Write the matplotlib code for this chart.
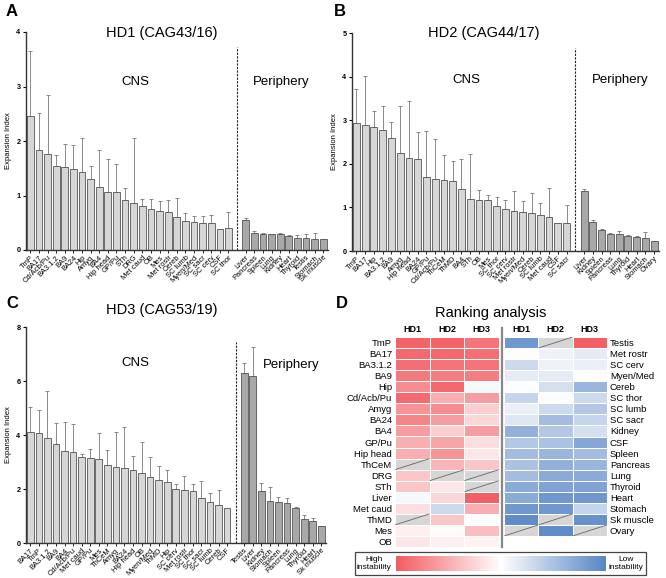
import numpy as np
import matplotlib
matplotlib.use("Agg")
import matplotlib.pyplot as plt
from matplotlib.colors import LinearSegmentedColormap
from matplotlib.patches import Rectangle

plt.rcParams['font.family'] = ['Liberation Sans', 'DejaVu Sans']

# ---- panel A: HD1
hd1_cns = ["TmP", "BA17", "Cd/Acb/Pu", "BA3.1.2", "BA9", "BA24", "Hip", "Amyg", "BA4",
           "Hip head", "GP/Pu", "STh", "DRG", "Met caud", "OB", "Mes", "Met rostr", "Cereb",
           "SC lumb", "Myen/Med", "SC sacr", "SC cerv", "CSF", "SC thor"]
hd1_cns_val = [2.45, 1.83, 1.77, 1.55, 1.53, 1.48, 1.43, 1.30, 1.15, 1.07, 1.07, 0.91,
               0.87, 0.80, 0.76, 0.71, 0.70, 0.60, 0.53, 0.52, 0.50, 0.49, 0.39, 0.40]
hd1_cns_top = [3.65, 2.51, 2.85, 1.75, 1.95, 1.92, 2.06, 1.55, 1.84, 1.67, 1.58, 1.14,
               2.06, 0.93, 0.93, 0.89, 0.91, 0.96, 0.67, 0.63, 0.63, 0.65, 0.39, 0.70]
hd1_per = ["Liver", "Pancreas", "Spleen", "Lung", "Kidney", "Heart", "Thyroid", "Testis",
           "Stomach", "Sk muscle"]
hd1_per_val = [0.55, 0.31, 0.30, 0.29, 0.29, 0.26, 0.22, 0.22, 0.20, 0.20]
hd1_per_top = [0.59, 0.35, 0.32, 0.30, 0.32, 0.28, 0.27, 0.29, 0.32, 0.20]

# ---- panel B: HD2
hd2_cns = ["TmP", "BA17", "Hip", "BA3.1.2", "BA9", "Amyg", "Hip head", "BA24", "GP/Pu",
           "Cd/Acb/Pu", "ThCeM", "ThMD", "BA4", "STh", "OB", "Mes", "SC thor", "SC cerv",
           "Met rostr", "Myen/Med", "Cereb", "SC lumb", "Met caud", "CSF", "SC sacr"]
hd2_cns_val = [2.93, 2.88, 2.84, 2.77, 2.60, 2.25, 2.13, 2.12, 1.70, 1.64, 1.62, 1.61,
               1.43, 1.19, 1.18, 1.16, 1.04, 0.97, 0.92, 0.89, 0.88, 0.83, 0.78, 0.65, 0.64]
hd2_cns_top = [3.72, 4.01, 3.21, 3.32, 2.95, 3.33, 3.45, 2.74, 2.75, 2.57, 2.21, 2.07,
               2.12, 2.23, 1.39, 1.29, 1.25, 1.16, 1.38, 1.14, 1.32, 1.10, 1.45, 0.65, 1.05]
hd2_per = ["Liver", "Kidney", "Spleen", "Pancreas", "Lung", "Thyroid", "Heart", "Stomach",
           "Ovary"]
hd2_per_val = [1.38, 0.66, 0.48, 0.40, 0.39, 0.34, 0.32, 0.30, 0.22]
hd2_per_top = [1.42, 0.71, 0.50, 0.41, 0.45, 0.36, 0.35, 0.43, 0.23]

# ---- panel C: HD3
hd3_cns = ["BA17", "TmP", "BA3.1.2", "BA9", "BA4", "Cd/Acb/Pu", "Met caud", "GP/Pu", "Mes",
           "ThCeM", "Amyg", "BA24", "Hip head", "OB", "Myen/Med", "ThMD", "Hip", "SC cerv",
           "Met rostr", "SC thor", "SC sacr", "SC lumb", "Cereb", "CSF"]
hd3_cns_val = [4.12, 4.06, 3.90, 3.65, 3.42, 3.36, 3.17, 3.16, 3.10, 2.90, 2.82, 2.76,
               2.71, 2.61, 2.45, 2.32, 2.25, 1.99, 1.97, 1.91, 1.67, 1.53, 1.40, 1.30]
hd3_cns_top = [5.02, 4.92, 5.63, 4.46, 4.47, 4.40, 3.30, 3.48, 4.07, 3.46, 4.10, 4.30,
               3.21, 3.74, 3.20, 2.84, 2.70, 2.18, 2.48, 2.20, 2.30, 1.86, 1.97, 1.30]
hd3_per = ["Testis", "Liver", "Kidney", "Stomach", "Spleen", "Pancreas", "Lung", "Thyroid",
           "Heart", "Sk muscle"]
hd3_per_val = [6.28, 6.20, 1.93, 1.54, 1.53, 1.48, 1.28, 0.90, 0.80, 0.62]
hd3_per_top = [6.68, 7.27, 2.21, 2.07, 1.70, 1.67, 1.32, 1.02, 0.93, 0.62]

# ---- panel D: ranking (-1 = high instability, +1 = low, nan = missing)
nan = np.nan
rank_left = ["TmP", "BA17", "BA3.1.2", "BA9", "Hip", "Cd/Acb/Pu", "Amyg", "BA24", "BA4",
             "GP/Pu", "Hip head", "ThCeM", "DRG", "STh", "Liver", "Met caud", "ThMD", "Mes", "OB"]
rank_left_val = [[-0.95, -0.95, -0.85], [-0.92, -0.92, -0.88], [-0.88, -0.85, -0.85],
                 [-0.82, -0.80, -0.80], [-0.70, -0.92, 0.05], [-0.90, -0.50, -0.60],
                 [-0.65, -0.70, -0.30], [-0.75, -0.60, -0.25], [-0.60, -0.30, -0.60],
                 [-0.50, -0.55, -0.20], [-0.50, -0.65, -0.15], [nan, -0.45, -0.35],
                 [-0.35, nan, nan], [-0.35, -0.15, nan], [0.05, -0.25, -0.97],
                 [-0.20, 0.30, -0.50], [nan, -0.35, 0.02], [-0.10, -0.03, -0.40],
                 [-0.15, -0.10, -0.08]]
rank_right = ["Testis", "Met rostr", "SC cerv", "Myen/Med", "Cereb", "SC thor", "SC lumb",
              "SC sacr", "Kidney", "CSF", "Spleen", "Pancreas", "Lung", "Thyroid", "Heart",
              "Stomach", "Sk muscle", "Ovary"]
rank_right_val = [[0.85, nan, -0.97], [-0.02, 0.10, 0.15], [0.30, 0.10, 0.12],
                  [0.15, 0.15, -0.02], [0.02, 0.25, 0.60], [0.35, 0.03, 0.30],
                  [0.12, 0.30, 0.45], [0.20, 0.55, 0.35], [0.65, 0.45, 0.25],
                  [0.45, 0.50, 0.72], [0.55, 0.60, 0.55], [0.50, 0.65, 0.60],
                  [0.55, 0.70, 0.70], [0.70, 0.75, 0.75], [0.70, 0.85, 0.85],
                  [0.85, 0.85, 0.35], [0.95, nan, 0.90], [nan, 0.95, nan]]
hd_cols = ["HD1", "HD2", "HD3"]

W, H = 666, 578
fig = plt.figure(figsize=(W / 100, H / 100), dpi=100)


def rect(x0, y0, x1, y1):
    # pixel box (top-left origin) -> figure fraction
    return [x0 / W, 1 - y1 / H, (x1 - x0) / W, (y1 - y0) / H]


def bar_panel(box, cns, cv, ct, per, pv, pt, ymax, title, tpos, cpos, ppos):
    ax = fig.add_axes(rect(*box))
    n = len(cns)
    xc = np.arange(n)
    xp = np.arange(len(per)) + n + 1
    ax.bar(xc, cv, width=0.78, color="#d6d6d6", edgecolor="#555555", linewidth=0.6, zorder=2)
    ax.bar(xp, pv, width=0.78, color="#a8a8a8", edgecolor="#555555", linewidth=0.6, zorder=2)
    ax.errorbar(xc, cv, yerr=[np.zeros(n), np.array(ct) - np.array(cv)], fmt="none",
                ecolor="#777777", elinewidth=0.6, capsize=1.5, capthick=0.6, zorder=1)
    ax.errorbar(xp, pv, yerr=[np.zeros(len(per)), np.array(pt) - np.array(pv)], fmt="none",
                ecolor="#777777", elinewidth=0.6, capsize=1.5, capthick=0.6, zorder=1)
    ax.axvline(n, ymax=0.93, color="#222222", linestyle=(0, (2, 1.2)), linewidth=0.8)
    ax.set_xlim(-0.5, xp[-1] + 0.55)
    ax.set_ylim(0, ymax)
    ax.set_yticks(np.arange(0, ymax + 0.1, 1 if ymax < 6 else 2))
    ax.set_xticks(list(xc) + list(xp))
    ax.set_xticklabels(cns + per, rotation=45, ha="right", rotation_mode="anchor", fontsize=5.4)
    ax.tick_params(axis="y", labelsize=5.2, length=2, width=0.8, pad=2)
    ax.tick_params(axis="x", length=2, width=0.6, pad=1)
    for t in ax.get_yticklabels():
        t.set_fontweight("bold")
    for s in ["top", "right"]:
        ax.spines[s].set_visible(False)
    for s in ["left", "bottom"]:
        ax.spines[s].set_linewidth(1.0)
        ax.spines[s].set_color("#333333")
    ax.set_ylabel("Expansion Index", fontsize=5.5, labelpad=3)
    fig.text(tpos[0] / W, 1 - tpos[1] / H, title, fontsize=10.5, ha="center", va="center")
    fig.text(cpos[0] / W, 1 - cpos[1] / H, "CNS", fontsize=9.5, ha="center", va="center")
    fig.text(ppos[0] / W, 1 - ppos[1] / H, "Periphery", fontsize=9.5, ha="center", va="center")
    return ax


bar_panel((26, 32, 328, 250), hd1_cns, hd1_cns_val, hd1_cns_top, hd1_per, hd1_per_val,
          hd1_per_top, 4, "HD1 (CAG43/16)", (162, 33), (135, 82), (281, 82))
bar_panel((352, 33, 659, 251), hd2_cns, hd2_cns_val, hd2_cns_top, hd2_per, hd2_per_val,
          hd2_per_top, 5, "HD2 (CAG44/17)", (484, 33), (466, 80), (620, 80))
bar_panel((26, 327, 326, 543), hd3_cns, hd3_cns_val, hd3_cns_top, hd3_per, hd3_per_val,
          hd3_per_top, 8, "HD3 (CAG53/19)", (162, 310), (135, 363), (291, 365))

for lab, (px, py) in zip("ABCD", [(12, 11), (340, 11), (12, 303), (342, 303)]):
    fig.text(px / W, 1 - py / H, lab, fontsize=12, fontweight="bold", ha="center", va="center")

# ---- heatmaps
cmap = LinearSegmentedColormap.from_list("rw", ["#f25c62", "#ffffff", "#5886c6"])


def heat(box, rows, vals, side):
    ax = fig.add_axes(rect(*box))
    arr = np.array(vals, dtype=float)
    nr, nc = arr.shape
    ax.pcolormesh(np.ma.masked_invalid(arr), cmap=cmap, vmin=-1, vmax=1,
                  edgecolor="white", linewidth=0.7)
    for r, c in zip(*np.where(np.isnan(arr))):
        ax.add_patch(Rectangle((c, r), 1, 1, facecolor="#d6d6d6", edgecolor="white", linewidth=0.7))
        ax.plot([c + 0.02, c + 0.98], [r + 0.98, r + 0.02], color="#666666", linewidth=0.6)
    ax.set_xlim(0, nc)
    ax.set_ylim(nr, 0)
    ax.set_xticks(np.arange(nc) + 0.5)
    ax.set_xticklabels(hd_cols, fontsize=6.5, fontweight="bold")
    ax.xaxis.tick_top()
    ax.set_yticks(np.arange(nr) + 0.5)
    ax.set_yticklabels(rows, fontsize=6.8)
    if side == "right":
        ax.yaxis.tick_right()
    ax.tick_params(length=0, pad=2)
    for s in ax.spines.values():
        s.set_visible(False)
    return ax


heat((395, 337, 499, 547), rank_left, rank_left_val, "left")
heat((504, 337, 607, 536), rank_right, rank_right_val, "right")
fig.add_artist(plt.Line2D([501.5 / W, 501.5 / W], [1 - 328 / H, 1 - 547 / H],
                          color="#888888", linewidth=1.6))
fig.text(491 / W, 1 - 313 / H, "Ranking analysis", fontsize=10.5, ha="center", va="center")

# legend bar
cax = fig.add_axes(rect(396, 556, 606, 571))
cax.imshow(np.linspace(-1, 1, 256)[None, :], aspect="auto", cmap=cmap, vmin=-1, vmax=1)
cax.set_axis_off()
fig.add_artist(Rectangle((355 / W, 1 - 575 / H), 291 / W, 23 / H, transform=fig.transFigure,
                         fill=False, edgecolor="#444444", linewidth=0.9))
fig.text(374 / W, 1 - 563.5 / H, "High\ninstability", fontsize=6, ha="center", va="center",
         linespacing=1.1)
fig.text(626 / W, 1 - 563.5 / H, "Low\ninstability", fontsize=6, ha="center", va="center",
         linespacing=1.1)

fig.savefig("out.png", dpi=100)
